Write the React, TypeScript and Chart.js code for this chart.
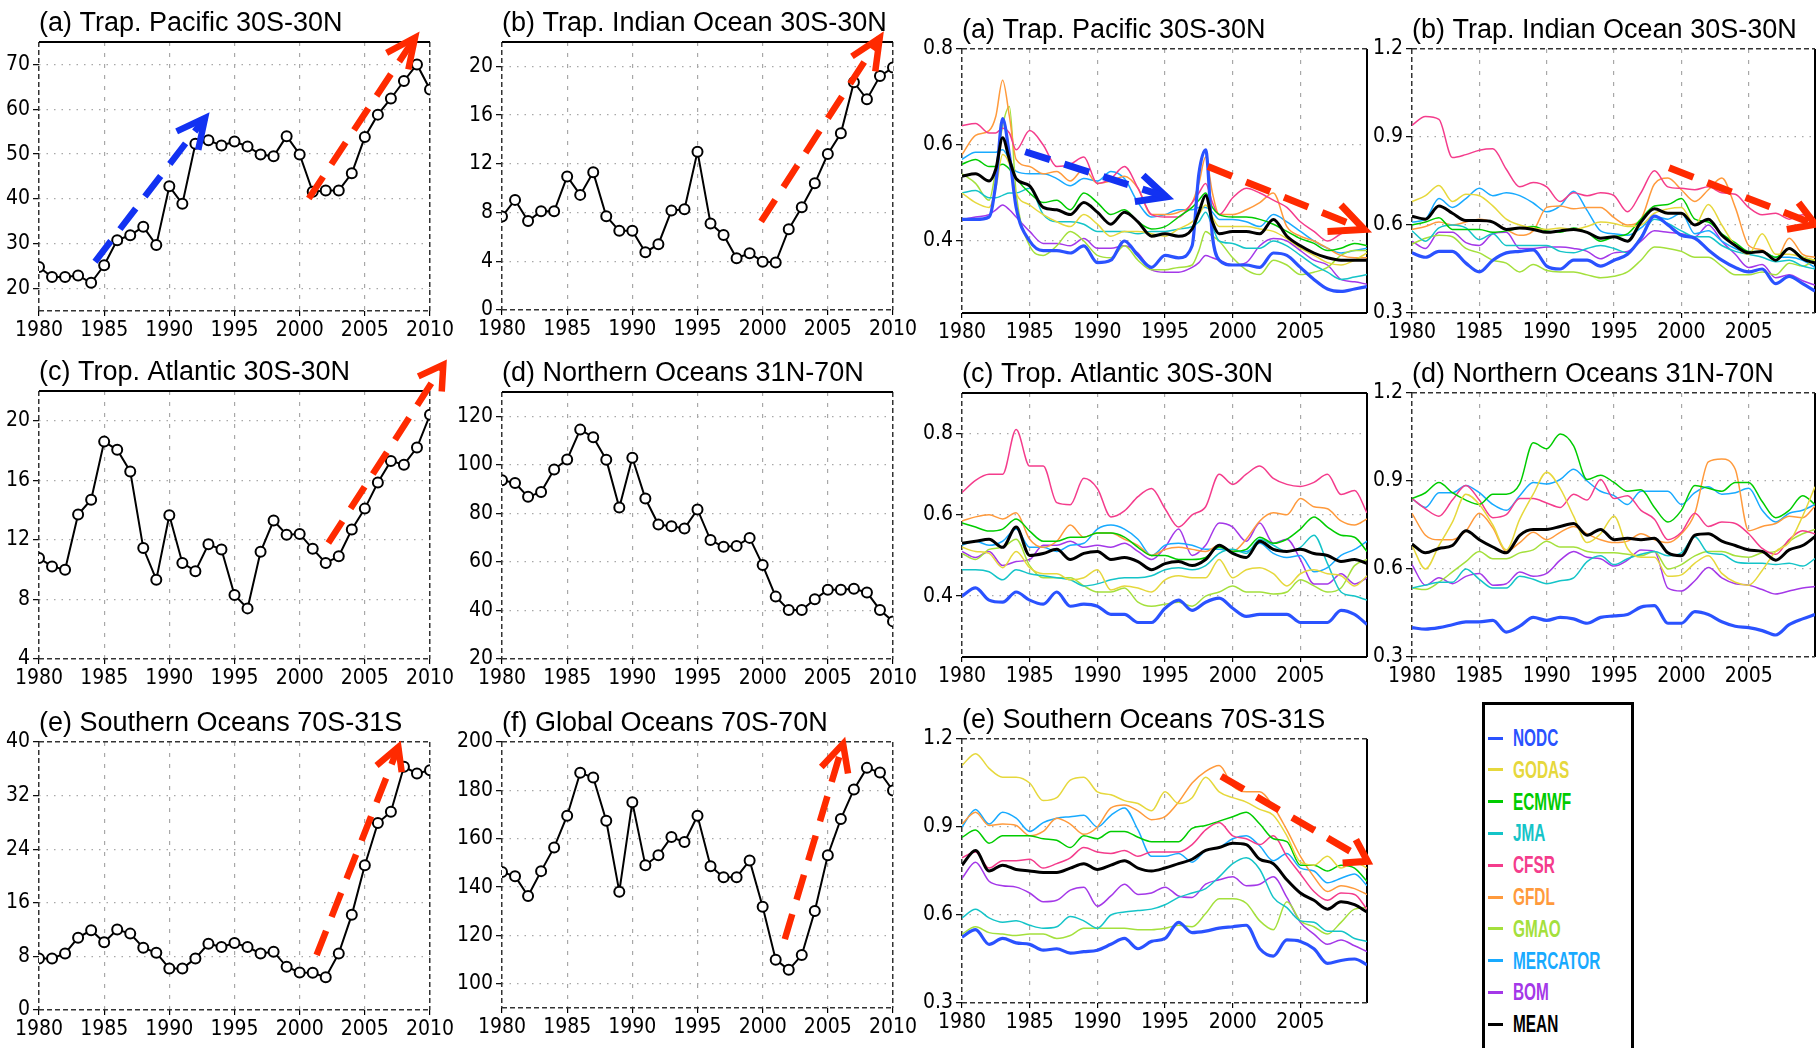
import React, { useEffect, useRef } from "react";
import { Chart, registerables } from "chart.js";

Chart.register(...registerables);

// ---------------- time axes ----------------
const YEARS_ANNUAL = [1980, 1981, 1982, 1983, 1984, 1985, 1986, 1987, 1988, 1989, 1990, 1991, 1992, 1993, 1994, 1995, 1996, 1997, 1998, 1999, 2000, 2001, 2002, 2003, 2004, 2005, 2006, 2007, 2008, 2009, 2010];
const T_MONTHLY = [1980, 1981, 1982, 1983, 1984, 1985, 1986, 1987, 1988, 1989, 1990, 1991, 1992, 1993, 1994, 1995, 1996, 1997, 1998, 1999, 2000, 2001, 2002, 2003, 2004, 2005, 2006, 2007, 2008, 2009, 2009.92];
const T_PACIFIC = [1980, 1981, 1982, 1982.5, 1983, 1983.5, 1984, 1985, 1986, 1987, 1988, 1989, 1990, 1991, 1992, 1993, 1994, 1995, 1996, 1997, 1997.5, 1998, 1998.5, 1999, 2000, 2001, 2002, 2003, 2004, 2005, 2006, 2007, 2008, 2009, 2009.92];

// ---------------- tick labels ----------------
const X_TICKS_ANNUAL = [1980, 1985, 1990, 1995, 2000, 2005, 2010];
const X_TICKS_MONTHLY = [1980, 1985, 1990, 1995, 2000, 2005];
const Y_TICKS_PAC_ANN = [20, 30, 40, 50, 60, 70];
const Y_TICKS_IND_ANN = [0, 4, 8, 12, 16, 20];
const Y_TICKS_ATL_ANN = [4, 8, 12, 16, 20];
const Y_TICKS_NOR_ANN = [20, 40, 60, 80, 100, 120];
const Y_TICKS_SOU_ANN = [0, 8, 16, 24, 32, 40];
const Y_TICKS_GLB_ANN = [100, 120, 140, 160, 180, 200];
const Y_TICKS_LOW = [0.4, 0.6, 0.8];
const Y_TICKS_HIGH = [0.3, 0.6, 0.9, 1.2];

// ---------------- annual series (left panels) ----------------
const PAC_ANN = [24.8, 22.6, 22.6, 22.9, 21.3, 25.2, 30.8, 31.9, 33.8, 29.7, 42.8, 38.9, 52.3, 53.1, 51.9, 52.8, 51.7, 49.9, 49.5, 54.0, 49.9, 41.6, 41.9, 41.9, 45.7, 53.8, 58.8, 62.4, 66.3, 70.0, 64.4];
const IND_ANN = [7.67, 9.04, 7.3, 8.1, 8.1, 10.96, 9.45, 11.3, 7.7, 6.5, 6.5, 4.74, 5.4, 8.16, 8.27, 13.0, 7.1, 6.16, 4.25, 4.66, 3.97, 3.9, 6.63, 8.44, 10.4, 12.8, 14.5, 18.7, 17.3, 19.2, 19.9];
const ATL_ANN = [10.78, 10.22, 10.0, 13.7, 14.7, 18.6, 18.05, 16.6, 11.45, 9.33, 13.65, 10.45, 9.9, 11.7, 11.35, 8.3, 7.4, 11.2, 13.3, 12.35, 12.4, 11.4, 10.45, 10.9, 12.7, 14.1, 15.85, 17.3, 17.05, 18.2, 20.4];
const NOR_ANN = [93.6, 92.5, 86.8, 88.8, 98.1, 102.2, 114.5, 111.4, 102.1, 82.4, 102.9, 86.1, 75.4, 74.7, 73.8, 81.6, 69.0, 66.2, 66.6, 69.9, 58.7, 45.7, 40.2, 40.2, 44.6, 48.5, 48.5, 48.9, 47.4, 40.2, 35.5];
const SOU_ANN = [7.7, 7.7, 8.45, 10.8, 11.9, 10.1, 12.0, 11.4, 9.3, 8.55, 6.2, 6.2, 7.7, 9.9, 9.4, 10.0, 9.4, 8.45, 8.7, 6.45, 5.6, 5.55, 4.9, 8.45, 14.2, 21.6, 27.9, 29.6, 36.3, 35.3, 35.8];
const GLB_ANN = [146.2, 144.5, 136.3, 146.6, 156.4, 169.5, 187.3, 185.3, 167.4, 138.1, 175.1, 149.0, 153.2, 160.7, 158.6, 169.5, 148.6, 144.1, 144.1, 151.0, 131.9, 110.0, 105.8, 111.9, 130.1, 153.2, 168.2, 180.4, 189.3, 187.4, 179.9];

// ---------------- products ----------------
const PRODUCTS = ["NODC", "GODAS", "ECMWF", "JMA", "CFSR", "GFDL", "GMAO", "MERCATOR", "BOM", "MEAN"];

// Trop. Pacific (on T_PACIFIC)
const PAC_NODC = [0.445, 0.445, 0.45, 0.52, 0.655, 0.58, 0.47, 0.40, 0.38, 0.38, 0.375, 0.39, 0.355, 0.36, 0.40, 0.37, 0.345, 0.37, 0.365, 0.39, 0.54, 0.59, 0.41, 0.36, 0.35, 0.35, 0.345, 0.375, 0.37, 0.345, 0.32, 0.30, 0.295, 0.30, 0.305];
const PAC_GODAS = [0.50, 0.48, 0.47, 0.51, 0.58, 0.56, 0.50, 0.475, 0.455, 0.44, 0.43, 0.455, 0.435, 0.41, 0.42, 0.42, 0.415, 0.41, 0.425, 0.44, 0.455, 0.475, 0.45, 0.43, 0.43, 0.43, 0.425, 0.42, 0.405, 0.385, 0.37, 0.355, 0.35, 0.36, 0.375];
const PAC_ECMWF = [0.56, 0.57, 0.555, 0.555, 0.56, 0.55, 0.53, 0.50, 0.48, 0.485, 0.465, 0.50, 0.48, 0.455, 0.465, 0.44, 0.425, 0.43, 0.45, 0.47, 0.485, 0.50, 0.47, 0.455, 0.45, 0.45, 0.445, 0.435, 0.42, 0.405, 0.395, 0.38, 0.385, 0.395, 0.39];
const PAC_JMA = [0.50, 0.505, 0.49, 0.49, 0.495, 0.50, 0.50, 0.51, 0.455, 0.44, 0.44, 0.435, 0.42, 0.42, 0.42, 0.415, 0.42, 0.42, 0.425, 0.43, 0.44, 0.46, 0.43, 0.40, 0.395, 0.385, 0.385, 0.40, 0.39, 0.37, 0.35, 0.335, 0.32, 0.325, 0.33];
const PAC_CFSR = [0.64, 0.645, 0.625, 0.625, 0.635, 0.625, 0.59, 0.63, 0.60, 0.555, 0.56, 0.575, 0.52, 0.53, 0.555, 0.51, 0.455, 0.45, 0.45, 0.48, 0.50, 0.52, 0.48, 0.455, 0.49, 0.51, 0.50, 0.485, 0.47, 0.44, 0.42, 0.40, 0.415, 0.425, 0.42];
const PAC_GFDL = [0.58, 0.62, 0.63, 0.66, 0.735, 0.66, 0.57, 0.555, 0.54, 0.545, 0.525, 0.55, 0.52, 0.525, 0.535, 0.51, 0.455, 0.455, 0.46, 0.48, 0.52, 0.575, 0.50, 0.455, 0.455, 0.465, 0.48, 0.50, 0.43, 0.41, 0.40, 0.385, 0.37, 0.365, 0.365];
const PAC_GMAO = [0.54, 0.52, 0.485, 0.55, 0.64, 0.68, 0.50, 0.39, 0.37, 0.39, 0.42, 0.40, 0.37, 0.365, 0.39, 0.36, 0.34, 0.34, 0.345, 0.35, 0.38, 0.42, 0.41, 0.40, 0.365, 0.34, 0.33, 0.36, 0.35, 0.33, 0.335, 0.345, 0.37, 0.38, 0.38];
const PAC_MERCATOR = [0.57, 0.585, 0.585, 0.585, 0.59, 0.57, 0.545, 0.54, 0.54, 0.53, 0.515, 0.53, 0.525, 0.545, 0.53, 0.48, 0.45, 0.455, 0.465, 0.465, 0.47, 0.47, 0.46, 0.445, 0.445, 0.44, 0.43, 0.455, 0.44, 0.42, 0.40, 0.385, 0.375, 0.38, 0.385];
const PAC_BOM = [0.445, 0.45, 0.455, 0.465, 0.475, 0.465, 0.45, 0.42, 0.395, 0.395, 0.39, 0.405, 0.385, 0.385, 0.39, 0.375, 0.34, 0.335, 0.335, 0.345, 0.355, 0.37, 0.365, 0.36, 0.35, 0.355, 0.39, 0.405, 0.40, 0.38, 0.36, 0.35, 0.32, 0.315, 0.31];
const PAC_MEAN = [0.535, 0.54, 0.525, 0.55, 0.615, 0.57, 0.53, 0.515, 0.47, 0.465, 0.455, 0.48, 0.46, 0.435, 0.46, 0.44, 0.41, 0.415, 0.41, 0.425, 0.46, 0.495, 0.44, 0.415, 0.42, 0.42, 0.415, 0.445, 0.41, 0.39, 0.375, 0.365, 0.36, 0.36, 0.36];

// Trop. Indian Ocean (on T_MONTHLY)
const IND_NODC = [0.505, 0.49, 0.51, 0.51, 0.47, 0.44, 0.48, 0.505, 0.51, 0.515, 0.46, 0.45, 0.48, 0.48, 0.46, 0.48, 0.50, 0.555, 0.63, 0.60, 0.565, 0.555, 0.515, 0.48, 0.455, 0.44, 0.45, 0.40, 0.425, 0.40, 0.375];
const IND_GODAS = [0.68, 0.70, 0.735, 0.68, 0.705, 0.70, 0.665, 0.62, 0.60, 0.59, 0.585, 0.59, 0.585, 0.595, 0.61, 0.605, 0.595, 0.60, 0.64, 0.655, 0.66, 0.60, 0.67, 0.60, 0.53, 0.50, 0.57, 0.50, 0.50, 0.49, 0.48];
const IND_ECMWF = [0.60, 0.61, 0.625, 0.585, 0.585, 0.585, 0.575, 0.58, 0.59, 0.595, 0.58, 0.575, 0.59, 0.575, 0.545, 0.56, 0.57, 0.62, 0.665, 0.67, 0.69, 0.62, 0.61, 0.57, 0.54, 0.51, 0.51, 0.49, 0.52, 0.49, 0.48];
const IND_JMA = [0.58, 0.545, 0.59, 0.60, 0.59, 0.55, 0.57, 0.53, 0.53, 0.53, 0.53, 0.51, 0.505, 0.52, 0.53, 0.52, 0.505, 0.56, 0.62, 0.605, 0.58, 0.56, 0.56, 0.53, 0.51, 0.50, 0.49, 0.475, 0.48, 0.46, 0.45];
const IND_CFSR = [0.94, 0.97, 0.96, 0.83, 0.84, 0.855, 0.86, 0.79, 0.73, 0.745, 0.73, 0.68, 0.71, 0.70, 0.71, 0.70, 0.645, 0.71, 0.785, 0.73, 0.725, 0.72, 0.73, 0.71, 0.705, 0.66, 0.635, 0.64, 0.62, 0.635, 0.62];
const IND_GFDL = [0.585, 0.595, 0.61, 0.60, 0.61, 0.62, 0.61, 0.585, 0.565, 0.58, 0.66, 0.665, 0.655, 0.66, 0.66, 0.625, 0.60, 0.62, 0.74, 0.76, 0.72, 0.68, 0.72, 0.76, 0.66, 0.53, 0.515, 0.48, 0.555, 0.50, 0.49];
const IND_GMAO = [0.535, 0.555, 0.565, 0.56, 0.52, 0.505, 0.48, 0.47, 0.44, 0.465, 0.445, 0.44, 0.44, 0.43, 0.42, 0.425, 0.44, 0.48, 0.525, 0.52, 0.51, 0.49, 0.49, 0.46, 0.43, 0.43, 0.44, 0.43, 0.47, 0.46, 0.48];
const IND_MERCATOR = [0.61, 0.62, 0.69, 0.66, 0.69, 0.725, 0.70, 0.71, 0.70, 0.675, 0.645, 0.665, 0.715, 0.65, 0.58, 0.57, 0.565, 0.59, 0.63, 0.62, 0.64, 0.57, 0.58, 0.545, 0.52, 0.505, 0.51, 0.49, 0.49, 0.48, 0.455];
const IND_BOM = [0.545, 0.52, 0.575, 0.575, 0.54, 0.53, 0.57, 0.575, 0.52, 0.52, 0.525, 0.525, 0.52, 0.51, 0.485, 0.505, 0.51, 0.545, 0.58, 0.575, 0.57, 0.56, 0.60, 0.545, 0.50, 0.455, 0.465, 0.42, 0.43, 0.41, 0.395];
const IND_MEAN = [0.63, 0.62, 0.665, 0.64, 0.615, 0.615, 0.61, 0.585, 0.59, 0.585, 0.575, 0.58, 0.585, 0.575, 0.555, 0.56, 0.545, 0.61, 0.655, 0.64, 0.64, 0.60, 0.62, 0.565, 0.53, 0.505, 0.51, 0.48, 0.52, 0.485, 0.47];

// Trop. Atlantic (on T_MONTHLY)
const ATL_NODC = [0.40, 0.42, 0.39, 0.385, 0.41, 0.39, 0.38, 0.41, 0.375, 0.38, 0.375, 0.355, 0.355, 0.335, 0.335, 0.37, 0.39, 0.365, 0.385, 0.395, 0.37, 0.35, 0.355, 0.355, 0.355, 0.335, 0.335, 0.335, 0.365, 0.355, 0.33];
const ATL_GODAS = [0.52, 0.51, 0.505, 0.47, 0.51, 0.47, 0.455, 0.455, 0.44, 0.445, 0.465, 0.415, 0.425, 0.42, 0.41, 0.44, 0.45, 0.445, 0.445, 0.49, 0.445, 0.465, 0.47, 0.455, 0.425, 0.455, 0.465, 0.455, 0.45, 0.425, 0.45];
const ATL_ECMWF = [0.58, 0.57, 0.56, 0.565, 0.59, 0.56, 0.535, 0.535, 0.545, 0.545, 0.555, 0.555, 0.545, 0.52, 0.50, 0.50, 0.49, 0.49, 0.495, 0.52, 0.51, 0.515, 0.545, 0.53, 0.54, 0.565, 0.595, 0.57, 0.55, 0.545, 0.51];
const ATL_JMA = [0.465, 0.465, 0.46, 0.44, 0.465, 0.455, 0.45, 0.445, 0.44, 0.425, 0.43, 0.44, 0.445, 0.445, 0.45, 0.465, 0.47, 0.465, 0.475, 0.505, 0.515, 0.505, 0.54, 0.525, 0.51, 0.52, 0.55, 0.48, 0.41, 0.40, 0.39];
const ATL_CFSR = [0.655, 0.685, 0.70, 0.70, 0.81, 0.72, 0.72, 0.63, 0.625, 0.69, 0.665, 0.595, 0.61, 0.645, 0.665, 0.615, 0.57, 0.60, 0.62, 0.70, 0.675, 0.70, 0.72, 0.69, 0.675, 0.67, 0.68, 0.70, 0.65, 0.66, 0.605];
const ATL_GFDL = [0.585, 0.595, 0.60, 0.59, 0.605, 0.54, 0.52, 0.535, 0.575, 0.545, 0.555, 0.555, 0.54, 0.525, 0.50, 0.515, 0.52, 0.515, 0.51, 0.525, 0.51, 0.54, 0.585, 0.605, 0.60, 0.64, 0.62, 0.615, 0.585, 0.575, 0.59];
const ATL_GMAO = [0.505, 0.49, 0.515, 0.52, 0.54, 0.475, 0.445, 0.445, 0.445, 0.425, 0.41, 0.41, 0.42, 0.385, 0.375, 0.38, 0.385, 0.375, 0.40, 0.41, 0.425, 0.41, 0.41, 0.405, 0.41, 0.44, 0.425, 0.41, 0.42, 0.475, 0.49];
const ATL_MERCATOR = [0.525, 0.535, 0.525, 0.535, 0.565, 0.52, 0.52, 0.51, 0.525, 0.53, 0.565, 0.575, 0.565, 0.54, 0.50, 0.525, 0.53, 0.525, 0.515, 0.515, 0.51, 0.51, 0.53, 0.505, 0.495, 0.50, 0.46, 0.47, 0.50, 0.515, 0.535];
const ATL_BOM = [0.51, 0.495, 0.51, 0.475, 0.485, 0.49, 0.525, 0.525, 0.535, 0.52, 0.525, 0.52, 0.53, 0.51, 0.49, 0.52, 0.565, 0.50, 0.525, 0.58, 0.57, 0.535, 0.58, 0.53, 0.54, 0.49, 0.43, 0.43, 0.455, 0.43, 0.445];
const ATL_MEAN = [0.53, 0.535, 0.54, 0.52, 0.57, 0.50, 0.505, 0.515, 0.49, 0.505, 0.51, 0.49, 0.495, 0.485, 0.465, 0.48, 0.485, 0.475, 0.49, 0.525, 0.505, 0.495, 0.535, 0.515, 0.51, 0.515, 0.505, 0.50, 0.485, 0.49, 0.48];

// Northern Oceans (on T_MONTHLY)
const NOR_NODC = [0.40, 0.395, 0.40, 0.41, 0.42, 0.42, 0.425, 0.385, 0.405, 0.435, 0.425, 0.435, 0.43, 0.415, 0.435, 0.44, 0.445, 0.47, 0.475, 0.415, 0.415, 0.455, 0.445, 0.42, 0.405, 0.40, 0.39, 0.375, 0.41, 0.43, 0.445];
const NOR_GODAS = [0.68, 0.60, 0.68, 0.76, 0.855, 0.82, 0.75, 0.665, 0.77, 0.855, 0.93, 0.875, 0.78, 0.69, 0.72, 0.78, 0.67, 0.64, 0.64, 0.575, 0.58, 0.62, 0.645, 0.585, 0.555, 0.545, 0.595, 0.66, 0.69, 0.78, 0.88];
const NOR_ECMWF = [0.84, 0.86, 0.895, 0.86, 0.835, 0.82, 0.855, 0.855, 0.89, 1.03, 1.01, 1.06, 1.02, 0.905, 0.92, 0.895, 0.865, 0.87, 0.81, 0.76, 0.80, 0.885, 0.875, 0.865, 0.895, 0.895, 0.83, 0.775, 0.80, 0.85, 0.82];
const NOR_JMA = [0.535, 0.545, 0.555, 0.555, 0.60, 0.565, 0.535, 0.535, 0.575, 0.565, 0.55, 0.56, 0.57, 0.625, 0.645, 0.615, 0.635, 0.65, 0.66, 0.645, 0.655, 0.71, 0.655, 0.65, 0.625, 0.62, 0.62, 0.615, 0.62, 0.61, 0.635];
const NOR_CFSR = [0.84, 0.805, 0.78, 0.835, 0.885, 0.835, 0.775, 0.785, 0.84, 0.84, 0.825, 0.81, 0.855, 0.835, 0.905, 0.84, 0.85, 0.80, 0.77, 0.70, 0.725, 0.79, 0.745, 0.76, 0.755, 0.72, 0.67, 0.65, 0.70, 0.73, 0.72];
const NOR_GFDL = [0.79, 0.715, 0.70, 0.70, 0.73, 0.79, 0.74, 0.66, 0.69, 0.725, 0.70, 0.725, 0.745, 0.72, 0.70, 0.69, 0.695, 0.72, 0.70, 0.69, 0.72, 0.79, 0.965, 0.975, 0.94, 0.73, 0.745, 0.755, 0.78, 0.775, 0.815];
const NOR_GMAO = [0.535, 0.53, 0.555, 0.59, 0.625, 0.66, 0.635, 0.635, 0.655, 0.665, 0.695, 0.675, 0.675, 0.66, 0.655, 0.655, 0.65, 0.645, 0.66, 0.60, 0.615, 0.645, 0.66, 0.66, 0.645, 0.64, 0.655, 0.66, 0.695, 0.72, 0.735];
const NOR_MERCATOR = [0.84, 0.81, 0.86, 0.86, 0.885, 0.86, 0.82, 0.80, 0.85, 0.895, 0.89, 0.905, 0.94, 0.90, 0.865, 0.85, 0.82, 0.865, 0.865, 0.865, 0.82, 0.86, 0.88, 0.855, 0.86, 0.875, 0.80, 0.76, 0.79, 0.80, 0.82];
const NOR_BOM = [0.615, 0.545, 0.57, 0.55, 0.575, 0.585, 0.545, 0.55, 0.59, 0.575, 0.585, 0.63, 0.66, 0.64, 0.635, 0.61, 0.63, 0.665, 0.66, 0.535, 0.525, 0.56, 0.605, 0.57, 0.55, 0.545, 0.53, 0.515, 0.525, 0.535, 0.54];
const NOR_MEAN = [0.685, 0.655, 0.67, 0.68, 0.73, 0.70, 0.675, 0.655, 0.715, 0.735, 0.735, 0.745, 0.755, 0.715, 0.735, 0.70, 0.705, 0.70, 0.705, 0.655, 0.645, 0.715, 0.72, 0.695, 0.68, 0.665, 0.66, 0.63, 0.665, 0.68, 0.71];

// Southern Oceans (on T_MONTHLY)
const SOU_NODC = [0.525, 0.55, 0.50, 0.52, 0.505, 0.50, 0.48, 0.485, 0.47, 0.475, 0.48, 0.50, 0.52, 0.485, 0.51, 0.52, 0.575, 0.54, 0.545, 0.555, 0.56, 0.565, 0.485, 0.46, 0.515, 0.51, 0.485, 0.435, 0.445, 0.45, 0.43];
const SOU_GODAS = [1.11, 1.15, 1.10, 1.07, 1.07, 1.05, 0.99, 1.00, 1.06, 1.07, 1.02, 1.01, 0.99, 0.98, 0.955, 1.02, 0.98, 1.00, 1.07, 1.02, 1.00, 0.985, 0.96, 0.94, 0.87, 0.78, 0.77, 0.80, 0.76, 0.78, 0.76];
const SOU_ECMWF = [0.865, 0.89, 0.845, 0.87, 0.87, 0.87, 0.86, 0.855, 0.83, 0.87, 0.86, 0.885, 0.885, 0.865, 0.85, 0.85, 0.85, 0.895, 0.905, 0.92, 0.935, 0.95, 0.91, 0.86, 0.85, 0.77, 0.77, 0.75, 0.77, 0.76, 0.715];
const SOU_JMA = [0.59, 0.62, 0.59, 0.575, 0.58, 0.565, 0.555, 0.56, 0.595, 0.58, 0.555, 0.60, 0.61, 0.615, 0.62, 0.635, 0.66, 0.675, 0.69, 0.73, 0.775, 0.795, 0.755, 0.66, 0.625, 0.58, 0.575, 0.545, 0.545, 0.52, 0.51];
const SOU_CFSR = [0.795, 0.815, 0.76, 0.785, 0.785, 0.79, 0.76, 0.775, 0.795, 0.83, 0.815, 0.81, 0.82, 0.80, 0.815, 0.815, 0.815, 0.84, 0.89, 0.915, 0.87, 0.86, 0.84, 0.87, 0.80, 0.74, 0.68, 0.65, 0.675, 0.67, 0.62];
const SOU_GFDL = [0.91, 0.95, 0.905, 0.91, 0.905, 0.87, 0.885, 0.93, 0.91, 0.875, 0.90, 0.965, 0.975, 0.955, 0.925, 0.935, 0.985, 1.05, 1.09, 1.11, 1.04, 1.02, 1.02, 0.97, 0.89, 0.80, 0.73, 0.68, 0.70, 0.69, 0.67];
const SOU_GMAO = [0.535, 0.56, 0.54, 0.535, 0.53, 0.535, 0.535, 0.52, 0.53, 0.555, 0.555, 0.555, 0.555, 0.55, 0.55, 0.555, 0.565, 0.56, 0.605, 0.655, 0.655, 0.64, 0.58, 0.55, 0.645, 0.58, 0.56, 0.535, 0.575, 0.62, 0.625];
const SOU_MERCATOR = [0.90, 0.96, 0.91, 0.95, 0.93, 0.885, 0.915, 0.93, 0.935, 0.94, 0.90, 0.94, 0.965, 0.89, 0.80, 0.80, 0.81, 0.78, 0.82, 0.83, 0.86, 0.87, 0.835, 0.785, 0.81, 0.76, 0.75, 0.71, 0.725, 0.74, 0.70];
const SOU_BOM = [0.725, 0.78, 0.715, 0.70, 0.695, 0.675, 0.645, 0.65, 0.685, 0.695, 0.63, 0.665, 0.705, 0.67, 0.675, 0.695, 0.665, 0.66, 0.705, 0.72, 0.73, 0.70, 0.705, 0.73, 0.66, 0.575, 0.535, 0.50, 0.515, 0.495, 0.475];
const SOU_MEAN = [0.77, 0.82, 0.75, 0.77, 0.755, 0.75, 0.745, 0.745, 0.76, 0.775, 0.755, 0.77, 0.785, 0.76, 0.75, 0.76, 0.775, 0.79, 0.82, 0.83, 0.845, 0.84, 0.79, 0.775, 0.72, 0.675, 0.65, 0.62, 0.645, 0.635, 0.61];

// ---------------- trend arrows (data coordinates: [year, value]) ----------------
const ARROW_PAC_ANN_BLUE = [[1984.3, 26.0], [1992.74, 58.06]];
const HEAD_PAC_ANN_BLUE = [[1990.56, 55.07], [1992.74, 58.06], [1992.22, 50.97]];
const ARROW_PAC_ANN_RED = [[2000.7, 40.1], [2008.85, 75.97]];
const HEAD_PAC_ANN_RED = [[2006.67, 72.6], [2008.85, 75.97], [2008.34, 68.9]];
const ARROW_IND_ANN_RED = [[1999.88, 7.26], [2008.98, 22.33]];
const HEAD_IND_ANN_RED = [[2006.85, 20.82], [2008.98, 22.33], [2008.64, 19.59]];
const ARROW_ATL_ANN_RED = [[2002.2, 11.79], [2011.02, 23.76]];
const HEAD_ATL_ANN_RED = [[2009.1, 22.98], [2011.02, 23.76], [2010.9, 21.97]];
const ARROW_SOU_ANN_RED = [[2001.3, 8.2], [2007.57, 39.25]];
const HEAD_SOU_ANN_RED = [[2005.9, 36.5], [2007.57, 39.25], [2007.83, 35.5]];
const ARROW_GLB_ANN_RED = [[2001.7, 118.5], [2006.17, 199.3]];
const HEAD_GLB_ANN_RED = [[2004.5, 189.7], [2006.17, 199.3], [2006.55, 187.0]];
const ARROW_PAC_BLUE = [[1984.67, 0.586], [1995.1, 0.492]];
const HEAD_PAC_BLUE = [[1993.38, 0.537], [1995.1, 0.492], [1992.77, 0.482]];
const ARROW_PAC_RED = [[1998.17, 0.555], [2009.72, 0.424]];
const HEAD_PAC_RED = [[2008.0, 0.475], [2009.72, 0.424], [2007.0, 0.42]];
const ARROW_IND_RED = [[1999.09, 0.795], [2009.93, 0.602]];
const HEAD_IND_RED = [[2008.7, 0.676], [2009.93, 0.602], [2007.83, 0.585]];
const ARROW_SOU_RED = [[1999.15, 1.073], [2009.96, 0.783]];
const HEAD_SOU_RED = [[2009.1, 0.857], [2009.96, 0.783], [2008.12, 0.777]];

// ---------------- styles ----------------
const PRODUCT_COLORS = ["#2a52ff", "#e6d83c", "#00cc00", "#14c4c8", "#f43c8c", "#ff9a3c", "#a4e03c", "#18aaff", "#a438e8", "#000000"];
const PRODUCT_WIDTHS = [3.2, 1.5, 1.5, 1.5, 1.5, 1.5, 1.5, 1.5, 1.5, 3];
const RED = "#ff2a00";
const BLUE = "#1232f2";
const TITLE_FAMILY = "'Liberation Sans', Arial, sans-serif";
const TICK_FAMILY = "'Liberation Sans Narrow', 'DejaVu Sans Condensed', 'Liberation Sans', Arial, sans-serif";
const AXIS_W = 50;
const TITLE_H = 50;
const XAXIS_H = 45;

type Arrow = { shaft: number[][]; head: number[][]; color: string };

type PanelSpec = {
  title: string;
  rect: [number, number, number, number];
  padR: number;
  frame: string; // top,right,bottom,left : s = solid, d = dashed
  x: [number, number];
  y: [number, number];
  xt: number[];
  yt: number[];
  annual?: number[];
  t?: number[];
  series?: number[][];
  arrows: Arrow[];
};

const PANELS: PanelSpec[] = [
  { title: "(a) Trap. Pacific 30S-30N", rect: [39, 42, 430, 311], padR: 30, frame: "sddd", x: [1980, 2010], y: [15, 75], xt: X_TICKS_ANNUAL, yt: Y_TICKS_PAC_ANN, annual: PAC_ANN,
    arrows: [{ shaft: ARROW_PAC_ANN_BLUE, head: HEAD_PAC_ANN_BLUE, color: BLUE }, { shaft: ARROW_PAC_ANN_RED, head: HEAD_PAC_ANN_RED, color: RED }] },
  { title: "(b) Trap. Indian Ocean 30S-30N", rect: [502, 42, 893, 310], padR: 30, frame: "sddd", x: [1980, 2010], y: [0, 22], xt: X_TICKS_ANNUAL, yt: Y_TICKS_IND_ANN, annual: IND_ANN,
    arrows: [{ shaft: ARROW_IND_ANN_RED, head: HEAD_IND_ANN_RED, color: RED }] },
  { title: "(a) Trap. Pacific 30S-30N", rect: [962, 49, 1367, 313], padR: 25, frame: "dssd", x: [1980, 2009.92], y: [0.25, 0.8], xt: X_TICKS_MONTHLY, yt: Y_TICKS_LOW, t: T_PACIFIC,
    series: [PAC_NODC, PAC_GODAS, PAC_ECMWF, PAC_JMA, PAC_CFSR, PAC_GFDL, PAC_GMAO, PAC_MERCATOR, PAC_BOM, PAC_MEAN],
    arrows: [{ shaft: ARROW_PAC_BLUE, head: HEAD_PAC_BLUE, color: BLUE }, { shaft: ARROW_PAC_RED, head: HEAD_PAC_RED, color: RED }] },
  { title: "(b) Trap. Indian Ocean 30S-30N", rect: [1412, 49, 1815, 313], padR: 1, frame: "dsdd", x: [1980, 2009.92], y: [0.3, 1.2], xt: X_TICKS_MONTHLY, yt: Y_TICKS_HIGH, t: T_MONTHLY,
    series: [IND_NODC, IND_GODAS, IND_ECMWF, IND_JMA, IND_CFSR, IND_GFDL, IND_GMAO, IND_MERCATOR, IND_BOM, IND_MEAN],
    arrows: [{ shaft: ARROW_IND_RED, head: HEAD_IND_RED, color: RED }] },
  { title: "(c) Trop. Atlantic 30S-30N", rect: [39, 391, 430, 659], padR: 30, frame: "sddd", x: [1980, 2010], y: [4, 22], xt: X_TICKS_ANNUAL, yt: Y_TICKS_ATL_ANN, annual: ATL_ANN,
    arrows: [{ shaft: ARROW_ATL_ANN_RED, head: HEAD_ATL_ANN_RED, color: RED }] },
  { title: "(d) Northern Oceans 31N-70N", rect: [502, 392, 893, 659], padR: 30, frame: "sddd", x: [1980, 2010], y: [20, 130], xt: X_TICKS_ANNUAL, yt: Y_TICKS_NOR_ANN, annual: NOR_ANN, arrows: [] },
  { title: "(c) Trop. Atlantic 30S-30N", rect: [962, 393, 1367, 657], padR: 25, frame: "sssd", x: [1980, 2009.92], y: [0.25, 0.9], xt: X_TICKS_MONTHLY, yt: Y_TICKS_LOW, t: T_MONTHLY,
    series: [ATL_NODC, ATL_GODAS, ATL_ECMWF, ATL_JMA, ATL_CFSR, ATL_GFDL, ATL_GMAO, ATL_MERCATOR, ATL_BOM, ATL_MEAN], arrows: [] },
  { title: "(d) Northern Oceans 31N-70N", rect: [1412, 393, 1815, 657], padR: 1, frame: "dsdd", x: [1980, 2009.92], y: [0.3, 1.2], xt: X_TICKS_MONTHLY, yt: Y_TICKS_HIGH, t: T_MONTHLY,
    series: [NOR_NODC, NOR_GODAS, NOR_ECMWF, NOR_JMA, NOR_CFSR, NOR_GFDL, NOR_GMAO, NOR_MERCATOR, NOR_BOM, NOR_MEAN], arrows: [] },
  { title: "(e) Southern Oceans 70S-31S", rect: [39, 742, 430, 1010], padR: 30, frame: "dddd", x: [1980, 2010], y: [0, 40], xt: X_TICKS_ANNUAL, yt: Y_TICKS_SOU_ANN, annual: SOU_ANN,
    arrows: [{ shaft: ARROW_SOU_ANN_RED, head: HEAD_SOU_ANN_RED, color: RED }] },
  { title: "(f) Global Oceans 70S-70N", rect: [502, 742, 893, 1008], padR: 30, frame: "dddd", x: [1980, 2010], y: [90, 200], xt: X_TICKS_ANNUAL, yt: Y_TICKS_GLB_ANN, annual: GLB_ANN,
    arrows: [{ shaft: ARROW_GLB_ANN_RED, head: HEAD_GLB_ANN_RED, color: RED }] },
  { title: "(e) Southern Oceans 70S-31S", rect: [962, 739, 1367, 1003], padR: 25, frame: "dsdd", x: [1980, 2009.92], y: [0.3, 1.2], xt: X_TICKS_MONTHLY, yt: Y_TICKS_HIGH, t: T_MONTHLY,
    series: [SOU_NODC, SOU_GODAS, SOU_ECMWF, SOU_JMA, SOU_CFSR, SOU_GFDL, SOU_GMAO, SOU_MERCATOR, SOU_BOM, SOU_MEAN],
    arrows: [{ shaft: ARROW_SOU_RED, head: HEAD_SOU_RED, color: RED }] },
];

function buildConfig(p: PanelSpec): any {
  const datasets: any[] = [];
  if (p.annual) {
    datasets.push({
      data: YEARS_ANNUAL.map((x, i) => ({ x, y: p.annual![i] })),
      borderColor: "#000", borderWidth: 2, tension: 0,
      pointRadius: 5, pointBackgroundColor: "#fff", pointBorderColor: "#000", pointBorderWidth: 2,
      order: 2,
    });
  }
  if (p.series && p.t) {
    p.series.forEach((vals, k) => {
      datasets.push({
        label: PRODUCTS[k],
        data: p.t!.map((x, i) => ({ x, y: vals[i] })),
        borderColor: PRODUCT_COLORS[k], borderWidth: PRODUCT_WIDTHS[k],
        pointRadius: 0, tension: 0.3, cubicInterpolationMode: "monotone",
        order: k === 9 ? 1 : k === 0 ? 2 : 3,
      });
    });
  }
  const aw = p.annual ? 6.5 : 7;
  p.arrows.forEach((a) => {
    datasets.push({
      data: a.shaft.map(([x, y]) => ({ x, y })), borderColor: a.color, borderWidth: aw,
      borderDash: [26, 15], borderCapStyle: "butt", pointRadius: 0, tension: 0, clip: false, order: 0,
    });
    datasets.push({
      data: a.head.map(([x, y]) => ({ x, y })), borderColor: a.color, borderWidth: aw,
      borderCapStyle: "butt", borderJoinStyle: "miter", pointRadius: 0, tension: 0, clip: false, order: 0,
    });
  });

  const [xMin, xMax] = p.x;
  const [yMin, yMax] = p.y;
  const tickFont = { family: TICK_FAMILY, size: 21, weight: "condensed", lineHeight: 1.2 };
  const frameSolid = (side: number) => p.frame[side] === "s";
  const frameColor = (side: number) => (frameSolid(side) ? "#000" : "#333");
  const frameWidth = (side: number) => (frameSolid(side) ? 2 : 1.5);
  const frameDash = (side: number) => (frameSolid(side) ? [] : [5, 3]);
  const xSide = (i: number) => (i === 0 ? 3 : 1);
  const ySide = (i: number) => (i === 0 ? 2 : 0);

  return {
    type: "line",
    data: { datasets },
    options: {
      animation: false,
      responsive: false,
      devicePixelRatio: 1,
      events: [],
      layout: { padding: { left: 0, top: 0, bottom: 0, right: p.padR } },
      plugins: {
        legend: { display: false },
        tooltip: { enabled: false },
        title: {
          display: true, text: p.title, align: "start", fullSize: false, color: "#000",
          font: { family: TITLE_FAMILY, size: 27, lineHeight: 1, weight: "normal" },
          padding: { top: 18, bottom: 5 },
        },
      },
      scales: {
        x: {
          type: "linear", position: "bottom", min: xMin, max: xMax,
          afterBuildTicks: (s: any) => { s.ticks = p.xt.map((v) => ({ value: v })); },
          afterFit: (s: any) => { s.height = XAXIS_H; },
          ticks: { autoSkip: false, maxRotation: 0, minRotation: 0, padding: 2, color: "#000", font: tickFont, callback: (v: any) => String(v) },
          grid: {
            display: true, drawOnChartArea: true, drawTicks: true, tickLength: 5,
            tickColor: "#000", tickWidth: 1.2, tickBorderDash: [], lineWidth: 1.2,
            color: (c: any) => (c.tick && (c.tick.value === xMin || c.tick.value === xMax) ? "rgba(0,0,0,0)" : "#a8a8a8"),
          },
          border: { display: false, dash: [4, 7] },
        },
        y: {
          type: "linear", position: "left", min: yMin, max: yMax,
          afterBuildTicks: (s: any) => { s.ticks = p.yt.map((v) => ({ value: v })); },
          afterFit: (s: any) => { s.width = AXIS_W; },
          ticks: { autoSkip: false, padding: 3, color: "#000", font: tickFont, callback: (v: any) => String(v) },
          grid: {
            display: true, drawOnChartArea: true, drawTicks: true, tickLength: 6,
            tickColor: "#000", tickWidth: 1.2, tickBorderDash: [], lineWidth: 1.3,
            color: (c: any) => (c.tick && (c.tick.value === yMin || c.tick.value === yMax) ? "rgba(0,0,0,0)" : "#a8a8a8"),
          },
          border: { display: false, dash: [1.5, 6] },
        },
        x2: {
          type: "linear", position: "top", min: xMin, max: xMax,
          afterBuildTicks: (s: any) => { s.ticks = [{ value: xMin }, { value: xMax }]; },
          afterFit: (s: any) => { s.height = 0; },
          ticks: { display: false },
          grid: {
            display: true, drawOnChartArea: true, drawTicks: false,
            color: (c: any) => frameColor(xSide(c.index)),
            lineWidth: (c: any) => frameWidth(xSide(c.index)),
          },
          border: { display: false, dash: (c: any) => frameDash(xSide(c.index)) },
        },
        y2: {
          type: "linear", position: "right", min: yMin, max: yMax,
          afterBuildTicks: (s: any) => { s.ticks = [{ value: yMin }, { value: yMax }]; },
          afterFit: (s: any) => { s.width = 0; },
          ticks: { display: false },
          grid: {
            display: true, drawOnChartArea: true, drawTicks: false,
            color: (c: any) => frameColor(ySide(c.index)),
            lineWidth: (c: any) => frameWidth(ySide(c.index)),
          },
          border: { display: false, dash: (c: any) => frameDash(ySide(c.index)) },
        },
      },
    },
  };
}

function Panel({ spec }: { spec: PanelSpec }) {
  const ref = useRef<HTMLCanvasElement | null>(null);
  const [l, t, r, b] = spec.rect;
  const left = l - AXIS_W;
  const top = t - TITLE_H;
  const width = r - l + AXIS_W + spec.padR;
  const height = b - t + TITLE_H + XAXIS_H;
  useEffect(() => {
    if (!ref.current) return;
    const chart = new Chart(ref.current, buildConfig(spec));
    return () => chart.destroy();
  }, [spec]);
  return (
    <canvas
      ref={ref}
      width={width}
      height={height}
      style={{ position: "absolute", left, top, width, height }}
    />
  );
}

function Legend() {
  return (
    <>
      <div style={{ position: "absolute", left: 1482, top: 702, width: 152, height: 400, border: "3px solid #000", boxSizing: "border-box" }} />
      {PRODUCTS.map((name, i) => {
        const cy = 738 + i * 31.8;
        return (
          <React.Fragment key={name}>
            <div style={{ position: "absolute", left: 1488, top: cy - 1.5, width: 15, height: 3, background: PRODUCT_COLORS[i] }} />
            <div
              style={{
                position: "absolute", left: 1513, top: cy - 12, height: 24, lineHeight: "24px",
                fontSize: 24, fontFamily: TITLE_FAMILY, fontWeight: 700, color: PRODUCT_COLORS[i],
                transform: "scaleX(0.64)", transformOrigin: "0 50%", whiteSpace: "nowrap",
              }}
            >
              {name}
            </div>
          </React.Fragment>
        );
      })}
    </>
  );
}

export default function App() {
  return (
    <div style={{ position: "absolute", left: 0, top: 0, width: 1816, height: 1048, overflow: "hidden", background: "#fff" }}>
      {PANELS.map((p, i) => (
        <Panel key={i} spec={p} />
      ))}
      <Legend />
    </div>
  );
}
